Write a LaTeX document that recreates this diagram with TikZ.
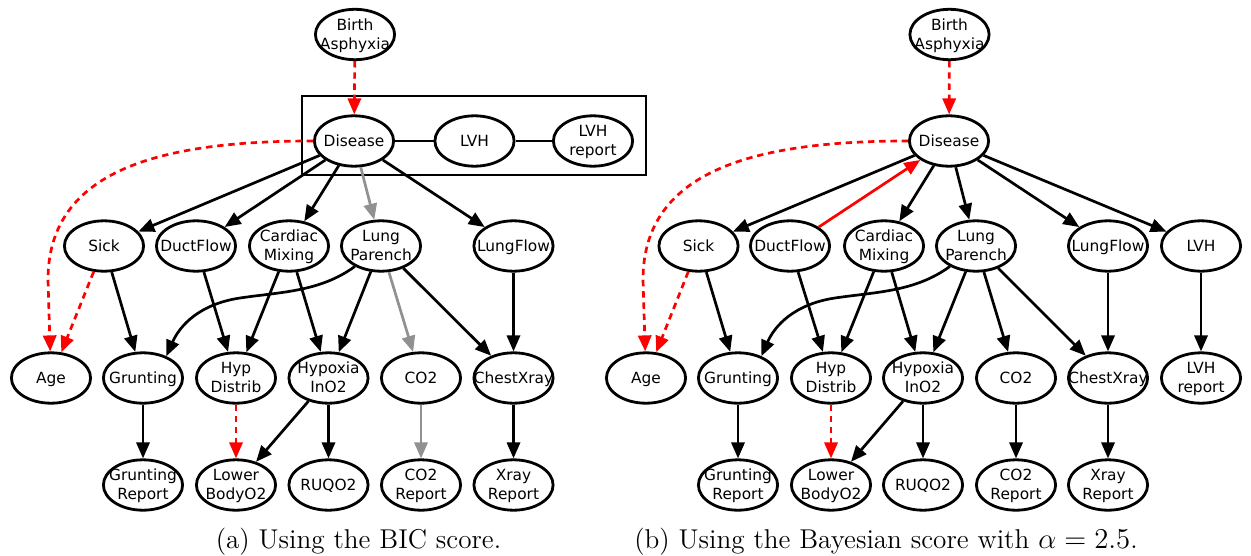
\documentclass[tikz,border=0pt]{standalone}
\usepackage{fontspec}
\newfontfamily\dejavu{DejaVu Sans}
\usetikzlibrary{arrows.meta,shapes.geometric}
\definecolor{edgegray}{RGB}{145,145,145}
\newcommand\ntx[1]{\raisebox{-2.8pt}[0pt][0pt]{\makebox[0pt]{\begin{tabular}{@{}c@{}}#1\end{tabular}}}}
\begin{document}
\begin{tikzpicture}[x=0.5pt,y=-0.5pt,
  ell/.style={shape=ellipse, draw, line width=1.4pt, minimum width=39.6pt, minimum height=25.2pt,
    inner sep=0pt, font=\dejavu\fontsize{7.7}{9.5}\selectfont},
  arr/.style={line width=1.35pt, -{Triangle[length=8pt,width=6.6pt]}},
  garr/.style={arr, draw=edgegray},
  rdash/.style={arr, draw=red, dash pattern=on 3.2pt off 2.4pt},
  rarr/.style={arr, draw=red},
  und/.style={line width=1.35pt},
  boxst/.style={line width=1.4pt},
  captext/.style={anchor=base, font=\fontsize{13.6}{15}\selectfont}
]
\useasboundingbox (0,0) rectangle (1251,556);

% ---------------- (a) ----------------
\draw[boxst] (302,96) rectangle (646,175);
\node[ell] (aBA) at (355,34.5) {\ntx{Birth\\Asphyxia}};
\node[ell] (aD) at (354,141) {\ntx{Disease}};
\node[ell] (aLVH) at (474.5,141) {\ntx{LVH}};
\node[ell] (aLVHr) at (593,141) {\ntx{LVH\\report}};
\node[ell] (aSick) at (104,246) {\ntx{Sick}};
\node[ell] (aDuct) at (196,246) {\ntx{DuctFlow}};
\node[ell] (aCard) at (289,246) {\ntx{Cardiac\\Mixing}};
\node[ell] (aLung) at (381,246) {\ntx{Lung\\Parench}};
\node[ell] (aLF) at (513.5,246) {\ntx{LungFlow}};
\node[ell] (aAge) at (51,378) {\ntx{Age}};
\node[ell] (aGrun) at (143,378) {\ntx{Grunting}};
\node[ell] (aHyp) at (236,378) {\ntx{Hyp\\Distrib}};
\node[ell] (aHox) at (328.5,378) {\ntx{Hypoxia\\InO2}};
\node[ell] (aCO) at (421,378) {\ntx{CO2}};
\node[ell] (aCX) at (513.5,378) {\ntx{ChestXray}};
\node[ell] (aGR) at (143,485) {\ntx{Grunting\\Report}};
\node[ell] (aLB) at (236,485) {\ntx{Lower\\BodyO2}};
\node[ell] (aRUQ) at (328.5,485) {\ntx{RUQO2}};
\node[ell] (aCOR) at (421,485) {\ntx{CO2\\Report}};
\node[ell] (aXR) at (513.5,485) {\ntx{Xray\\Report}};

\draw[rdash] (aBA) -- (aD);
\draw[und] (aD) -- (aLVH);
\draw[und] (aLVH) -- (aLVHr);
\draw[arr] (aD) -- (aSick);
\draw[arr] (aD) -- (aDuct);
\draw[arr] (aD) -- (aCard);
\draw[garr] (aD) -- (aLung);
\draw[arr] (aD) -- (aLF);
\draw[rdash] (aD.west) .. controls +(-153,0) and (48,170) .. (48,280) -- (aAge);
\draw[rdash] (aSick) -- (aAge);
\draw[arr] (aSick) -- (aGrun);
\draw[arr] (aDuct) -- (aHyp);
\draw[arr] (aCard) -- (aHyp);
\draw[arr] (aCard) -- (aHox);
\draw[arr] (aLung.218) .. controls (320,292) and (280,292) .. (240,298) .. controls (200,304) and (180,325) .. (aGrun.43);
\draw[arr] (aLung) -- (aHox);
\draw[garr] (aLung) -- (aCO);
\draw[arr] (aLung) -- (aCX);
\draw[arr] (aLF) -- (aCX);
\draw[arr] (aGrun) -- (aGR);
\draw[rdash] (aHyp) -- (aLB);
\draw[arr] (aHox) -- (aLB);
\draw[arr] (aHox) -- (aRUQ);
\draw[garr] (aCO) -- (aCOR);
\draw[arr] (aCX) -- (aXR);

\node[captext] (capa) at (358.5,548) {(a) Using the BIC score.};

% ---------------- (b) ----------------
\node[ell] (bBA) at (949.5,34.5) {\ntx{Birth\\Asphyxia}};
\node[ell] (bD) at (949,141) {\ntx{Disease}};
\node[ell] (bSick) at (698.5,246) {\ntx{Sick}};
\node[ell] (bDuct) at (790,246) {\ntx{DuctFlow}};
\node[ell] (bCard) at (884,246) {\ntx{Cardiac\\Mixing}};
\node[ell] (bLung) at (976,246) {\ntx{Lung\\Parench}};
\node[ell] (bLF) at (1108,246) {\ntx{LungFlow}};
\node[ell] (bLVH) at (1201,246) {\ntx{LVH}};
\node[ell] (bAge) at (646,378) {\ntx{Age}};
\node[ell] (bGrun) at (738,378) {\ntx{Grunting}};
\node[ell] (bHyp) at (831,378) {\ntx{Hyp\\Distrib}};
\node[ell] (bHox) at (923,378) {\ntx{Hypoxia\\InO2}};
\node[ell] (bCO) at (1016,378) {\ntx{CO2}};
\node[ell] (bCX) at (1108,378) {\ntx{ChestXray}};
\node[ell] (bLVHr) at (1201,378) {\ntx{LVH\\report}};
\node[ell] (bGR) at (738,485) {\ntx{Grunting\\Report}};
\node[ell] (bLB) at (831,485) {\ntx{Lower\\BodyO2}};
\node[ell] (bRUQ) at (923,485) {\ntx{RUQO2}};
\node[ell] (bCOR) at (1016,485) {\ntx{CO2\\Report}};
\node[ell] (bXR) at (1108,485) {\ntx{Xray\\Report}};

\draw[rdash] (bBA) -- (bD);
\draw[arr] (bD) -- (bSick);
\draw[arr] (bD) -- (bCard);
\draw[arr] (bD) -- (bLung);
\draw[arr] (bD) -- (bLF);
\draw[arr] (bD) -- (bLVH);
\draw[rarr] (bDuct) -- (bD);
\draw[rdash] (bD.west) .. controls +(-153,0) and (643,170) .. (643,280) -- (bAge);
\draw[rdash] (bSick) -- (bAge);
\draw[arr] (bSick) -- (bGrun);
\draw[arr] (bDuct) -- (bHyp);
\draw[arr] (bCard) -- (bHyp);
\draw[arr] (bCard) -- (bHox);
\draw[arr] (bLung.218) .. controls (915,292) and (875,292) .. (835,298) .. controls (795,304) and (775,325) .. (bGrun.43);
\draw[arr] (bLung) -- (bHox);
\draw[arr] (bLung) -- (bCO);
\draw[arr] (bLung) -- (bCX);
\draw[arr] (bLF) -- (bCX);
\draw[arr] (bLVH) -- (bLVHr);
\draw[arr] (bGrun) -- (bGR);
\draw[rdash] (bHyp) -- (bLB);
\draw[arr] (bHox) -- (bLB);
\draw[arr] (bHox) -- (bRUQ);
\draw[arr] (bCO) -- (bCOR);
\draw[arr] (bCX) -- (bXR);

\node[captext] (capb) at (886,548) {(b) Using the Bayesian score with $\alpha = 2.5$.};
\end{tikzpicture}
\end{document}
